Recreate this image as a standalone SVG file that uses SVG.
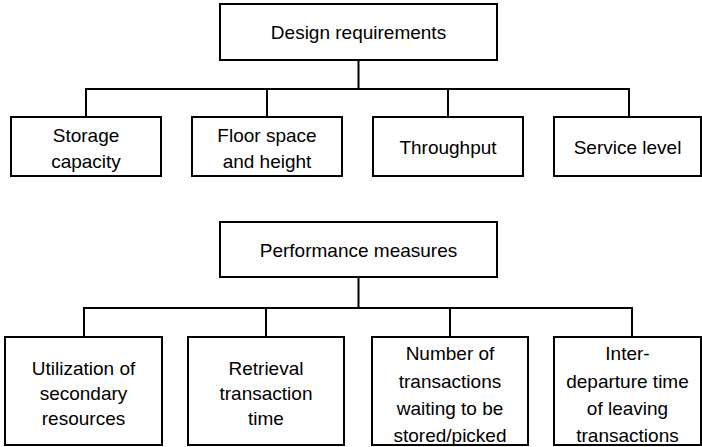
<svg xmlns="http://www.w3.org/2000/svg" width="702" height="447" viewBox="0 0 702 447">
<style>
.box{fill:#fff;stroke:#000;stroke-width:2}
.ln{fill:none;stroke:#000;stroke-width:2}
text{font-family:"Liberation Sans",Arial,sans-serif;font-size:19px;fill:#000;text-anchor:middle}
</style>
<rect width="702" height="447" fill="#fff"/>
<g id="connectors">
<path class="ln" d="M358.5 60V89M86 118V89H629V118M267 89V118M448 89V118"/>
<path class="ln" d="M358.5 277V308M84 338V308H632V338M266 308V338M450 308V338"/>
</g>
<g id="design"><rect class="box" x="220" y="4" width="277" height="56"/><text x="358.5" y="39">Design requirements</text></g>
<g id="storage"><rect class="box" x="11" y="117" width="150" height="59"/><text x="86" y="141.5">Storage</text><text x="86" y="168">capacity</text></g>
<g id="floor"><rect class="box" x="192" y="117" width="150" height="59"/><text x="267" y="141.5">Floor space</text><text x="267" y="168">and height</text></g>
<g id="throughput"><rect class="box" x="373" y="117" width="150" height="59"/><text x="448" y="154">Throughput</text></g>
<g id="service"><rect class="box" x="554" y="117" width="147" height="59"/><text x="627.5" y="154">Service level</text></g>
<g id="performance"><rect class="box" x="220" y="222" width="277" height="55"/><text x="358.5" y="257">Performance measures</text></g>
<g id="utilization"><rect class="box" x="5" y="337" width="157" height="108"/><text x="83.5" y="375">Utilization of</text><text x="83.5" y="400">secondary</text><text x="83.5" y="425">resources</text></g>
<g id="retrieval"><rect class="box" x="188" y="337" width="156" height="108"/><text x="266" y="375">Retrieval</text><text x="266" y="400">transaction</text><text x="266" y="425">time</text></g>
<g id="number"><rect class="box" x="372" y="337" width="156" height="108"/><text x="450" y="360">Number of</text><text x="450" y="388">transactions</text><text x="450" y="415">waiting to be</text><text x="450" y="442">stored/picked</text></g>
<g id="interdeparture"><rect class="box" x="554" y="337" width="147" height="108"/><text x="627.5" y="360">Inter-</text><text x="627.5" y="388">departure time</text><text x="627.5" y="415">of leaving</text><text x="627.5" y="442">transactions</text></g>
</svg>
